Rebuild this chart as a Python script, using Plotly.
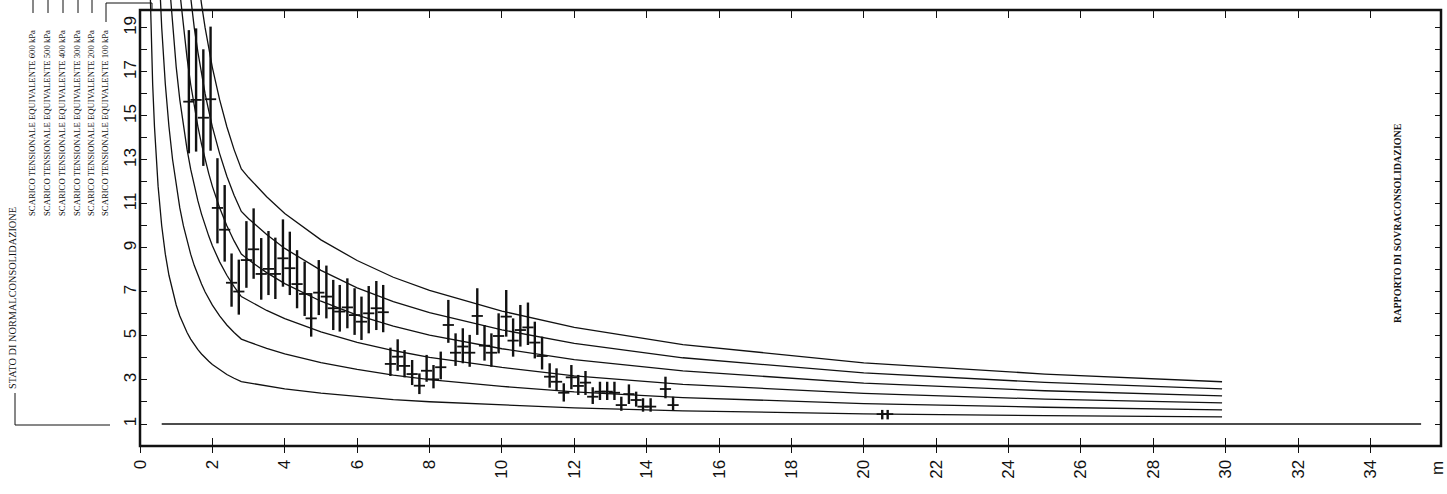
import numpy as np
import plotly.graph_objects as go

# ---- measured overconsolidation ratio (OCR) vs depth, with error range ----
DEPTH_MEAS = [1.35, 1.55, 1.75, 1.95, 2.14, 2.34, 2.53, 2.73, 2.94, 3.14, 3.35, 3.55,
              3.74, 3.95, 4.14, 4.34, 4.55, 4.73, 4.94, 5.15, 5.34, 5.52, 5.73, 5.93,
              6.12, 6.32, 6.53, 6.72, 6.92, 7.12, 7.31, 7.52, 7.72, 7.92, 8.11, 8.31,
              8.52, 8.72, 8.92, 9.11, 9.32, 9.52, 9.71, 9.91, 10.12, 10.31, 10.51, 10.72,
              10.91, 11.11, 11.32, 11.51, 11.71, 11.92, 12.11, 12.31, 12.51, 12.71, 12.91, 13.11,
              13.30, 13.51, 13.71, 13.90, 14.11, 14.52, 14.73, 20.51, 20.66]
OCR_MEAS = [15.65, 15.73, 14.92, 15.76, 10.82, 9.83, 7.42, 7.02, 8.45, 8.94, 7.82, 8.05,
            7.82, 8.53, 8.08, 7.36, 6.91, 5.80, 6.97, 6.79, 6.26, 6.11, 6.30, 5.95,
            5.65, 6.03, 6.26, 6.08, 3.73, 4.06, 3.64, 3.27, 2.74, 3.42, 3.03, 3.58,
            5.50, 4.24, 4.52, 4.24, 5.91, 4.56, 4.24, 5.00, 5.88, 4.79, 5.27, 5.39,
            4.70, 4.09, 3.15, 2.92, 2.42, 3.12, 2.73, 2.88, 2.24, 2.47, 2.47, 2.42,
            1.86, 2.36, 2.09, 1.79, 1.79, 2.59, 1.86, 1.45, 1.45]
OCR_HIGH = [18.90, 18.98, 18.03, 19.06, 13.08, 11.86, 8.75, 8.47, 10.22, 10.80, 9.45, 9.77,
            9.47, 10.30, 9.74, 8.90, 8.38, 6.95, 8.45, 8.20, 7.55, 7.32, 7.62, 7.17,
            6.79, 7.27, 7.50, 7.32, 4.47, 4.85, 4.36, 3.91, 3.30, 4.14, 3.68, 4.29,
            6.64, 5.12, 5.35, 5.05, 7.17, 5.50, 5.12, 6.03, 7.09, 5.80, 6.41, 6.52,
            5.65, 4.97, 3.76, 3.53, 2.85, 3.68, 3.23, 3.41, 2.67, 2.92, 2.92, 2.92,
            2.24, 2.80, 2.47, 2.17, 2.17, 3.15, 2.24, 1.64, 1.64]
OCR_LOW = [13.30, 13.38, 12.73, 13.42, 9.21, 8.38, 6.33, 5.97, 7.19, 7.60, 6.65, 6.86,
           6.68, 7.24, 6.86, 6.26, 5.91, 4.97, 5.95, 5.80, 5.27, 5.20, 5.35, 5.05,
           4.82, 5.12, 5.27, 5.17, 3.18, 3.42, 3.12, 2.77, 2.36, 2.92, 2.62, 3.03,
           4.69, 3.64, 3.76, 3.60, 5.05, 3.88, 3.60, 4.21, 4.97, 4.06, 4.52, 4.59,
           3.98, 3.48, 2.65, 2.52, 2.02, 2.58, 2.32, 2.32, 1.91, 2.09, 2.09, 2.09,
           1.60, 1.91, 1.79, 1.56, 1.56, 2.17, 1.60, 1.21, 1.21]

# ---- reference curves: OCR after an equivalent stress release ----
DEPTH_100 = [0.25, 0.3, 0.35, 0.4, 0.45, 0.5, 0.6, 0.7, 0.8, 0.9, 1.0, 1.1, 1.2, 1.3, 1.4,
             1.5, 1.6, 1.7, 1.8, 1.9, 2.0, 2.2, 2.4, 2.6, 2.8, 3.0, 3.5, 4, 5, 6, 7, 8,
             10, 12, 15, 20, 25, 29.9]
OCR_100 = [22.62, 19.02, 16.44, 14.51, 13.01, 11.81, 10.01, 8.72, 7.76, 7.01, 6.41, 5.91,
           5.50, 5.16, 4.86, 4.60, 4.38, 4.18, 4.00, 3.85, 3.70, 3.46, 3.25, 3.08, 2.93,
           2.87, 2.72, 2.60, 2.40, 2.24, 2.11, 2.01, 1.86, 1.73, 1.60, 1.46, 1.38, 1.32]

DEPTH_200 = [0.5, 0.6, 0.7, 0.8, 0.9, 1.0, 1.1, 1.2, 1.3, 1.4, 1.5, 1.6, 1.7, 1.8, 1.9,
             2.0, 2.2, 2.4, 2.6, 2.8, 3.0, 3.5, 4, 5, 6, 7, 8, 10, 12, 15, 20, 25, 29.9]
OCR_200 = [22.62, 19.02, 16.44, 14.52, 13.02, 11.82, 10.82, 10.00, 9.32, 8.72, 8.20, 7.76,
           7.36, 7.00, 6.69, 6.40, 5.91, 5.50, 5.16, 4.86, 4.73, 4.44, 4.19, 3.79, 3.48,
           3.22, 3.02, 2.71, 2.46, 2.20, 1.93, 1.76, 1.64]

DEPTH_300 = [0.8, 0.9, 1.0, 1.1, 1.2, 1.3, 1.4, 1.5, 1.6, 1.7, 1.8, 1.9, 2.0, 2.2, 2.4,
             2.6, 2.8, 3.0, 3.5, 4, 5, 6, 7, 8, 10, 12, 15, 20, 25, 29.9]
OCR_300 = [21.28, 19.03, 17.23, 15.73, 14.50, 13.48, 12.58, 11.80, 11.14, 10.54, 10.00,
           9.54, 9.10, 8.37, 7.76, 7.24, 6.79, 6.60, 6.16, 5.79, 5.19, 4.71, 4.34, 4.03,
           3.57, 3.19, 2.80, 2.39, 2.13, 1.96]

DEPTH_400 = [1.1, 1.2, 1.3, 1.4, 1.5, 1.6, 1.7, 1.8, 1.9, 2.0, 2.2, 2.4, 2.6, 2.8, 3.0,
             3.5, 4, 5, 6, 7, 8, 10, 12, 15, 20, 25, 29.9]
OCR_400 = [20.64, 19.00, 17.64, 16.44, 15.40, 14.52, 13.72, 13.00, 12.38, 11.80, 10.83,
           10.01, 9.32, 8.72, 8.46, 7.88, 7.38, 6.58, 5.95, 5.45, 5.04, 4.42, 3.93, 3.41,
           2.86, 2.51, 2.28]

DEPTH_500 = [1.3, 1.4, 1.5, 1.6, 1.7, 1.8, 1.9, 2.0, 2.2, 2.4, 2.6, 2.8, 3.0, 3.5, 4, 5,
             6, 7, 8, 10, 12, 15, 20, 25, 29.9]
OCR_500 = [21.80, 20.30, 19.00, 17.90, 16.90, 16.00, 15.23, 14.50, 13.29, 12.26, 11.40,
           10.66, 10.33, 9.61, 8.98, 7.98, 7.19, 6.56, 6.06, 5.28, 4.66, 4.01, 3.32, 2.89,
           2.60]

DEPTH_600 = [1.5, 1.6, 1.7, 1.8, 1.9, 2.0, 2.2, 2.4, 2.6, 2.8, 3.0, 3.5, 4, 5, 6, 7, 8,
             10, 12, 15, 20, 25, 29.9]
OCR_600 = [22.60, 21.28, 20.08, 19.00, 18.07, 17.20, 15.74, 14.51, 13.47, 12.59, 12.20,
           11.33, 10.57, 9.37, 8.43, 7.67, 7.07, 6.13, 5.39, 4.61, 3.78, 3.27, 2.92]

# normally consolidated state
DEPTH_NC = [0.6, 35.4]
OCR_NC = [1.0, 1.0]

# ---- axes ticks ----
X_TICKS = list(range(0, 36, 2))
X_LABELS = [str(v) for v in X_TICKS]
Y_TICKS = list(range(1, 20))
Y_LABELS = [str(v) if v % 2 == 1 else "" for v in Y_TICKS]

LEGEND_TEXTS = ["SCARICO TENSIONALE EQUIVALENTE 600 kPa",
                "SCARICO TENSIONALE EQUIVALENTE 500 kPa",
                "SCARICO TENSIONALE EQUIVALENTE 400 kPa",
                "SCARICO TENSIONALE EQUIVALENTE 300 kPa",
                "SCARICO TENSIONALE EQUIVALENTE 200 kPa",
                "SCARICO TENSIONALE EQUIVALENTE 100 kPa"]
NC_TEXT = "STATO DI NORMALCONSOLIDAZIONE"
TITLE_TEXT = "RAPPORTO DI SOVRACONSOLIDAZIONE"
UNIT_TEXT = "m"

# ---- geometry (pixels) ----
W, H = 1447, 494
ML, MR, MT, MB = 140, 6, 0, 48
PW, PH = W - ML - MR, H - MT - MB
X_RANGE = [0, 35.95]
Y_RANGE = [0, 20.27]
FRAME_TOP = 19.82
frame_top_paper = FRAME_TOP / Y_RANGE[1]


def px_x(px):
    return (px - ML) / PW


def px_y(py):
    return (H - MB - py) / PH


INK = "#111111"
fig = go.Figure()

curves = [(DEPTH_100, OCR_100), (DEPTH_200, OCR_200), (DEPTH_300, OCR_300),
          (DEPTH_400, OCR_400), (DEPTH_500, OCR_500), (DEPTH_600, OCR_600)]
for i, (d, o) in enumerate(curves):
    fig.add_trace(go.Scatter(x=d, y=o, mode="lines", line=dict(color=INK, width=1.3),
                             xaxis="x3" if i == 5 else "x", yaxis="y",
                             hoverinfo="skip", showlegend=False))

fig.add_trace(go.Scatter(x=DEPTH_NC, y=OCR_NC, mode="lines",
                         line=dict(color=INK, width=1.3), xaxis="x2", yaxis="y2",
                         hoverinfo="skip", showlegend=False))

ocr = np.array(OCR_MEAS)
fig.add_trace(go.Scatter(
    x=DEPTH_MEAS, y=OCR_MEAS, mode="markers",
    marker=dict(symbol="line-ew", size=8, line=dict(width=1.8, color=INK)),
    error_y=dict(type="data", symmetric=False,
                 array=np.array(OCR_HIGH) - ocr, arrayminus=ocr - np.array(OCR_LOW),
                 width=0, thickness=2.4, color=INK),
    showlegend=False, hoverinfo="skip"))

tick_font = dict(family="Liberation Sans, Arial, sans-serif", size=17, color=INK)
common_x = dict(range=X_RANGE, showgrid=False, zeroline=False, showline=False,
                tickvals=X_TICKS, tickcolor=INK, tickwidth=1.3)
common_y = dict(range=Y_RANGE, showgrid=False, zeroline=False, showline=False,
                tickvals=Y_TICKS, tickcolor=INK, tickwidth=1.3)

fig.update_layout(
    width=W, height=H,
    margin=dict(l=ML, r=MR, t=MT, b=MB, pad=0),
    paper_bgcolor="white", plot_bgcolor="white",
    xaxis=dict(**common_x, ticktext=X_LABELS, ticks="outside", ticklen=6,
               tickangle=-90, tickfont=tick_font),
    xaxis2=dict(**common_x, overlaying="x", anchor="y", side="bottom",
                ticks="inside", ticklen=8, showticklabels=False),
    xaxis3=dict(**common_x, overlaying="x", anchor="free", position=frame_top_paper,
                side="top", ticks="inside", ticklen=7, showticklabels=False),
    yaxis=dict(**common_y, ticktext=Y_LABELS, ticks="inside", ticklen=7,
               tickangle=-90, tickfont=tick_font),
    yaxis2=dict(**common_y, overlaying="y", anchor="x", side="right",
                ticks="inside", ticklen=6, showticklabels=False),
)

# frame
fig.add_shape(type="rect", xref="paper", yref="paper", x0=0, x1=1, y0=0,
              y1=frame_top_paper, line=dict(color=INK, width=2.5), layer="above")

serif = "Liberation Serif, Times New Roman, serif"

# legend labels with leader lines
label_px = [32, 47, 62, 77, 91, 105]
for txt, lx in zip(LEGEND_TEXTS, label_px):
    fig.add_annotation(text=txt, x=px_x(lx), y=px_y(217), xref="paper", yref="paper",
                       textangle=-90, xanchor="center", yanchor="bottom",
                       showarrow=False, font=dict(family=serif, size=8.7, color=INK),
                       borderpad=0)
for lx in label_px[:-1]:
    fig.add_shape(type="line", xref="paper", yref="paper", x0=px_x(lx + 1), x1=px_x(lx + 1),
                  y0=px_y(0), y1=px_y(13), line=dict(color=INK, width=1))
# 100 kPa leader to its curve
fig.add_shape(type="path", xref="paper", yref="paper",
              path=f"M {px_x(106)} {px_y(22)} L {px_x(106)} {px_y(3)} "
                   f"L {px_x(152)} {px_y(3)} L {px_x(152)} {px_y(10)}",
              line=dict(color=INK, width=1))

fig.add_annotation(text=NC_TEXT, x=px_x(12), y=px_y(390), xref="paper", yref="paper",
                   textangle=-90, xanchor="center", yanchor="bottom", showarrow=False,
                   font=dict(family=serif, size=10.3, color=INK), borderpad=0)
fig.add_shape(type="path", xref="paper", yref="paper",
              path=f"M {px_x(15)} {px_y(393)} L {px_x(15)} {px_y(425)} L {px_x(110)} {px_y(425)}",
              line=dict(color=INK, width=1))

# title and unit
fig.add_annotation(text=f"<b>{TITLE_TEXT}</b>", x=px_x(1397), y=px_y(223),
                   xref="paper", yref="paper", textangle=-90, showarrow=False,
                   xanchor="center", yanchor="middle",
                   font=dict(family=serif, size=10, color=INK))
fig.add_annotation(text=UNIT_TEXT, x=px_x(1438), y=px_y(468), xref="paper", yref="paper",
                   textangle=-90, showarrow=False, xanchor="center", yanchor="middle",
                   font=tick_font)

fig.write_html("out.html")
